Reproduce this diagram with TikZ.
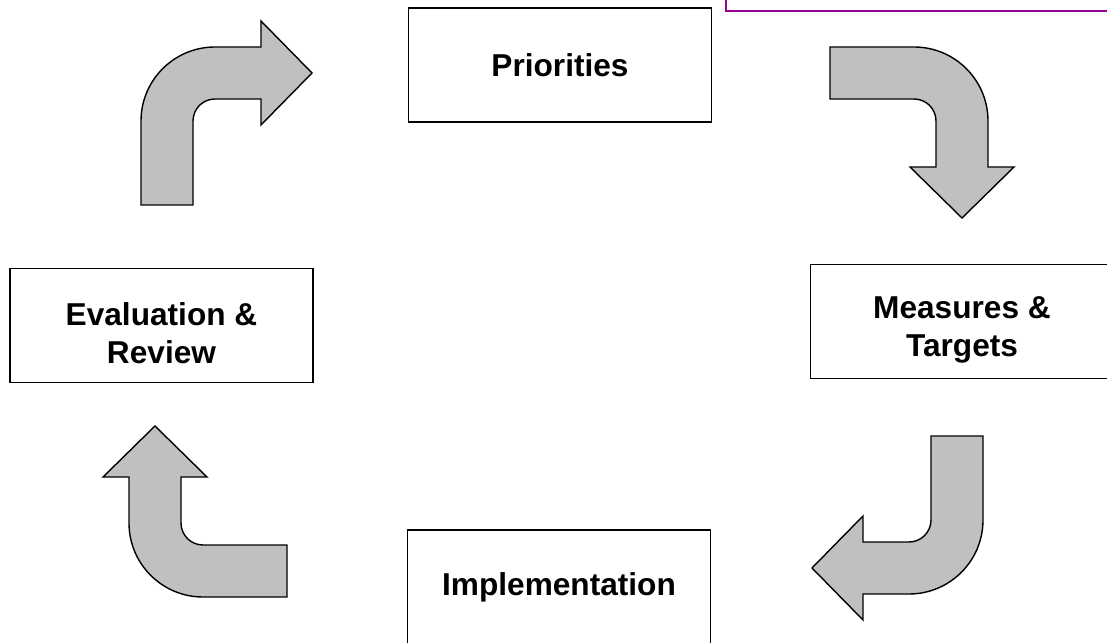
\documentclass[tikz,border=0pt]{standalone}
\usepackage{fontspec}
\setmainfont{Liberation Sans}
\usepackage{tikz}
\usetikzlibrary{positioning}
\definecolor{cicloGris}{RGB}{192,192,192}
\definecolor{cicloMorado}{RGB}{150,0,150}

\tikzset{
    bentarrow/.pic={
        \draw[fill=cicloGris, line width=0.8pt, line join=miter]
            (-1.48,-1.68) -- (-1.48,0) arc[start angle=180, end angle=90, radius=1.48]
            -- (0.92,1.48) -- (0.92,2.0) -- (1.94,0.96) -- (0.92,-0.08) -- (0.92,0.44)
            -- (0,0.44) arc[start angle=90, end angle=180, radius=0.44]
            -- (-0.44,-1.68) -- cycle;
    }
}

\begin{document}
\begin{tikzpicture}[
        etapa/.style={rectangle, draw, line width=0.8pt, minimum width=6.06cm, minimum height=2.28cm, align=center, font=\fontsize{18}{21.6}\selectfont\bfseries},
        etapatexto/.style={align=center, font=\fontsize{18}{21.6}\selectfont\bfseries}]
    \useasboundingbox (0,0) rectangle (22.14,12.84);
    \clip (0,0) rectangle (22.14,12.84);
    % cajas del ciclo
    \node[etapa] (prio) at (11.20,11.54) {Priorities};
    \node[etapa] (meas) at (19.24,6.41) {};
    \node[etapatexto] (measT) at ([yshift=-0.16cm]meas.center) {Measures \&\\Targets};
    \node[etapa] (impl) at (11.18,1.10) {Implementation};
    \node[etapa] (eval) at (3.23,6.33) {};
    \node[etapatexto] (evalT) at ([yshift=-0.16cm]eval.center) {Evaluation \&\\Review};
    % recuadro cortado arriba
    \draw[cicloMorado, line width=1.2pt] (14.52,12.62) rectangle (22.8,13.6);
    % flechas curvas
    \pic at (4.30,10.42) {bentarrow};
    \pic[rotate=-90] at (18.28,10.42) {bentarrow};
    \pic[rotate=180] at (18.18,2.44) {bentarrow};
    \pic[rotate=90] at (4.06,2.38) {bentarrow};
\end{tikzpicture}
\end{document}
